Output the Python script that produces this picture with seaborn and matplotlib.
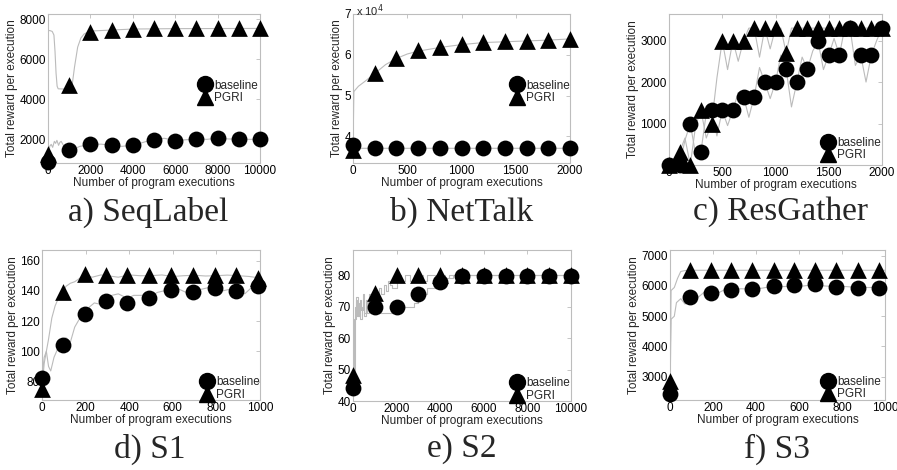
import numpy as np
import pandas as pd
import matplotlib
matplotlib.use('Agg')
import matplotlib.pyplot as plt
import seaborn as sns
from matplotlib.lines import Line2D
from matplotlib.ticker import FuncFormatter

sns.set_style('white')
plt.rcParams['font.family'] = ['Liberation Sans', 'DejaVu Sans']

# ---- a) SeqLabel ----
a_x = [0, 1000, 2000, 3000, 4000, 5000, 6000, 7000, 8000, 9000, 10000]
a_base = [850, 1470, 1750, 1700, 1720, 1970, 1930, 2000, 2050, 2000, 2000]
a_pgri = [1255, 4700, 7350, 7430, 7500, 7530, 7530, 7530, 7530, 7530, 7530]
a_line_x = [0, 20, 100, 200, 280, 330, 380, 430, 480, 700, 1000, 1120, 1250, 1400, 1550, 1700, 1850, 2000, 3000, 4000, 6000, 10000]
a_line_pgri = [1255, 7430, 7420, 7380, 7200, 6400, 5300, 4650, 4520, 4510, 4520, 4550, 5600, 6600, 7050, 7250, 7330, 7400, 7450, 7500, 7520, 7530]
a_line2_x = [0, 80, 150, 220, 300, 360, 420, 500, 560, 620, 700, 800, 1000, 1200, 1500, 2000, 2500, 3000, 3500, 4000, 4500, 5000, 5500, 6000, 6500, 7000, 7500, 8000, 8500, 9000, 10000]
a_line_base = [850, 1650, 1750, 1600, 1900, 1800, 1950, 1700, 1850, 1900, 1750, 1600, 1480, 1500, 1650, 1730, 1760, 1700, 1650, 1720, 1850, 2020, 2050, 1940, 1980, 2010, 2000, 2060, 2020, 2000, 2000]

# ---- b) NetTalk ----
b_x = [0, 200, 400, 600, 800, 1000, 1200, 1400, 1600, 1800, 2000]
b_base = [37800, 37100, 37100, 37100, 37100, 37100, 37100, 37100, 37100, 37100, 37100]
b_pgri = [36700, 55600, 59200, 61100, 61900, 62600, 63100, 63400, 63500, 63700, 63900]
b_line_x = [0, 8, 50, 100, 200, 300, 400, 500, 600, 800, 1000, 1200, 1400, 1600, 1800, 2000]
b_line_pgri = [36700, 51000, 52300, 53300, 55400, 57600, 59100, 60200, 60900, 61800, 62500, 63000, 63200, 63400, 63600, 63900]
b_line_base = [37800, 37200, 37100, 37100, 37100, 37100, 37100, 37100, 37100, 37100, 37100, 37100, 37100, 37100, 37100, 37100]

# ---- c) ResGather ----
c_x = [0, 100, 200, 300, 400, 500, 600, 700, 800, 900, 1000, 1100, 1200, 1300, 1400, 1500, 1600, 1700, 1800, 1900, 2000]
c_base = [0, 0, 1000, 320, 1320, 1320, 1320, 1650, 1650, 1990, 1990, 2310, 1990, 2310, 2980, 2650, 2650, 3300, 2650, 2650, 3300]
c_pgri = [0, 320, 0, 1320, 1000, 3000, 3000, 3000, 3300, 3300, 3300, 2700, 3300, 3300, 3300, 3300, 3300, 3300, 3300, 3300, 3300]
c_line_x = [0, 50, 100, 150, 200, 250, 300, 350, 400, 450, 500, 550, 600, 650, 700, 750, 800, 850, 900, 950, 1000,
            1050, 1100, 1150, 1200, 1250, 1300, 1350, 1400, 1450, 1500, 1550, 1600, 1650, 1700, 1750, 1800, 1850, 1900, 1950, 2000]
c_line_pgri = [0, 150, 320, 650, 0, 950, 1320, 650, 1000, 2100, 3000, 2300, 3000, 2500, 3000, 3300, 3300, 2600, 3300, 2800, 3300,
               3300, 2700, 3300, 3300, 3300, 3300, 3300, 3300, 3300, 3300, 3300, 3300, 3300, 3300, 3300, 3300, 3300, 3300, 3300, 3300]
c_line_base = [0, 0, 0, 600, 1000, 250, 320, 1250, 1320, 700, 1320, 950, 1320, 1750, 1650, 1150, 1650, 2350, 1990, 1600, 1990,
               2650, 2310, 1400, 1990, 2600, 2310, 2750, 2980, 2300, 2650, 3050, 2650, 3300, 3300, 2400, 2650, 2000, 2650, 3000, 3300]

# ---- d) S1 ----
d_x = [0, 95, 195, 292, 392, 493, 593, 692, 792, 892, 990]
d_base = [82.2, 104, 124.4, 133.3, 132.2, 135.5, 140.4, 138.9, 141.6, 140, 143.3]
d_pgri = [75.1, 139.3, 150.9, 150.4, 150.2, 150.4, 150.4, 150.4, 150.4, 150.6, 148.7]
d_line_x = [0, 10, 20, 30, 45, 60, 75, 95, 110, 130, 150, 170, 195, 230, 270, 300, 350, 400, 450, 500, 550, 600, 650, 700, 750, 800, 850, 900, 950, 990]
d_line_pgri = [75, 92, 100, 108, 122, 130, 135, 139, 143, 145, 146, 148, 150.5, 149, 150.5, 150, 149, 150.5, 150, 150, 150.5, 149.5, 150, 150.3, 149.8, 150, 150.4, 150, 149.5, 148.7]
d_line2_x = [0, 10, 20, 30, 40, 55, 70, 95, 110, 130, 150, 170, 195, 215, 240, 270, 292, 320, 350, 392, 420, 460, 493, 530, 560, 593, 630, 660, 692, 730, 760, 792, 830, 860, 892, 930, 960, 990]
d_line_base = [82, 96, 100, 90, 87, 96, 101, 104, 109, 106, 116, 121, 124, 129, 132, 131, 134, 137, 138, 135, 137, 137, 136, 139, 140, 140, 141, 139, 139, 141, 142, 141, 140, 141, 140, 138, 142, 143]

# ---- e) S2 ----
e_x = [0, 1000, 2000, 3000, 4000, 5000, 6000, 7000, 8000, 9000, 10000]
e_base = [44.2, 70, 70, 73.9, 77.9, 79.8, 79.8, 79.8, 79.8, 79.8, 79.8]
e_pgri = [48.2, 74.2, 80.2, 80.1, 80, 80, 80, 80, 80, 80, 80]
e_line_x = [0, 80, 150, 220, 300, 380, 450, 520, 600, 680, 750, 820, 900, 1000, 1100, 1200, 1300, 1400, 1500, 1600, 1700, 1800, 2000,
            2200, 2400, 2600, 2800, 3000, 3200, 3400, 3600, 3800, 4000, 4200, 4400, 4600, 10000]
e_line_pgri = [48, 70, 73, 67, 72, 69, 74, 68, 72, 70, 74, 71, 74, 75, 72, 76, 74, 77, 75, 78, 77, 76, 80,
               78, 80, 78, 80, 80, 78, 80, 80, 79, 80, 79, 80, 80, 80]
e_line2_x = [0, 60, 130, 200, 270, 340, 420, 500, 580, 650, 720, 800, 880, 1000, 1200, 2000, 2100, 2800, 3000, 3400, 3800, 4000, 4300, 4600, 10000]
e_line_base = [44, 66, 72, 67, 71, 66, 70, 67, 72, 68, 71, 69, 70, 70, 68, 68, 70, 71, 74, 76, 77, 78, 79, 80, 80]

# ---- f) S3 ----
f_x = [0, 95, 190, 286, 382, 482, 578, 675, 773, 873, 974]
f_base = [2420, 5640, 5760, 5860, 5890, 6000, 6020, 6050, 5980, 5950, 5950]
f_pgri = [2870, 6520, 6520, 6520, 6520, 6520, 6520, 6520, 6520, 6520, 6520]
f_line_x = [0, 5, 20, 35, 50, 70, 95, 1000]
f_line_pgri = [2870, 5850, 5950, 6250, 6480, 6510, 6520, 6520]
f_line2_x = [0, 5, 20, 30, 50, 70, 95, 130, 160, 190, 230, 260, 286, 330, 382, 430, 482, 530, 578, 620, 675, 720, 773, 820, 873, 920, 974, 1000]
f_line_base = [2420, 4900, 5000, 5450, 5580, 5400, 5640, 5620, 5800, 5760, 5790, 5900, 5860, 5910, 5890, 5930, 6000, 5980, 6010, 6000, 6050, 6000, 5980, 5980, 5950, 5950, 5950, 5950]

captions = ['a) SeqLabel', 'b) NetTalk', 'c) ResGather', 'd) S1', 'e) S2', 'f) S3']

panels = [
    dict(x=a_x, base=a_base, pgri=a_pgri, lx=a_line_x, lp=a_line_pgri, lx2=a_line2_x, lb=a_line_base,
         xlim=(0, 10000), ylim=(820, 8250), xticks=[0, 2000, 4000, 6000, 8000, 10000],
         yticks=[2000, 4000, 6000, 8000], pos=[48, 14, 212, 149], leg=(0.701, 0.477)),
    dict(x=b_x, base=b_base, pgri=b_pgri, lx=b_line_x, lp=b_line_pgri, lx2=b_line_x, lb=b_line_base,
         xlim=(0, 2000), ylim=(33500, 70000), xticks=[0, 500, 1000, 1500, 2000],
         yticks=[40000, 50000, 60000, 70000], pos=[353, 14, 217, 149], leg=(0.7175, 0.477)),
    dict(x=c_x, base=c_base, pgri=c_pgri, lx=c_line_x, lp=c_line_pgri, lx2=c_line_x, lb=c_line_base,
         xlim=(0, 2000), ylim=(0, 3640), xticks=[0, 500, 1000, 1500, 2000],
         yticks=[1000, 2000, 3000], pos=[669, 14, 213, 151], leg=(0.7075, 0.106)),
    dict(x=d_x, base=d_base, pgri=d_pgri, lx=d_line_x, lp=d_line_pgri, lx2=d_line2_x, lb=d_line_base,
         xlim=(0, 1000), ylim=(67.8, 167), xticks=[0, 200, 400, 600, 800, 1000],
         yticks=[80, 100, 120, 140, 160], pos=[42, 250, 218, 150], leg=(0.719, 0.077)),
    dict(x=e_x, base=e_base, pgri=e_pgri, lx=e_line_x, lp=e_line_pgri, lx2=e_line2_x, lb=e_line_base,
         xlim=(0, 10000), ylim=(40, 88), xticks=[0, 2000, 4000, 6000, 8000, 10000],
         yticks=[40, 50, 60, 70, 80], pos=[353, 250, 218, 151], leg=(0.714, 0.077), steps=True),
    dict(x=f_x, base=f_base, pgri=f_pgri, lx=f_line_x, lp=f_line_pgri, lx2=f_line2_x, lb=f_line_base,
         xlim=(0, 1000), ylim=(2230, 7190), xticks=[0, 200, 400, 600, 800, 1000],
         yticks=[3000, 4000, 5000, 6000, 7000], pos=[670, 250, 215, 150], leg=(0.696, 0.08)),
]

W, H = 897, 470
fig = plt.figure(figsize=(W / 100, H / 100), dpi=100)
spine_c = '#bdbdbd'
line_c = '#bbbbbb'

for i, p in enumerate(panels):
    l, t, w, h = p['pos']
    ax = fig.add_axes([l / W, 1 - (t + h) / H, w / W, h / H])
    ds = 'steps-post' if p.get('steps') else 'default'
    sns.lineplot(x=p['lx'], y=p['lp'], ax=ax, color=line_c, lw=0.8, sort=False, estimator=None, drawstyle=ds)
    sns.lineplot(x=p['lx2'], y=p['lb'], ax=ax, color=line_c, lw=0.8, sort=False, estimator=None, drawstyle=ds)
    sns.scatterplot(x=p['x'], y=p['pgri'], ax=ax, marker='^', s=145, color='black', edgecolor='black', linewidth=0, zorder=3, clip_on=False)
    sns.scatterplot(x=p['x'], y=p['base'], ax=ax, marker='o', s=130, color='black', edgecolor='black', linewidth=0, zorder=3, clip_on=False)
    ax.set_xlim(p['xlim'])
    ax.set_ylim(p['ylim'])
    ax.set_xticks(p['xticks'])
    ax.set_yticks(p['yticks'])
    if i == 1:
        ax.yaxis.set_major_formatter(FuncFormatter(lambda v, pos: '%d' % round(v / 10000)))
        ax.text(0.015, 1.025, r'x 10$^4$', transform=ax.transAxes, fontsize=8, va='center', ha='left')
    for s in ax.spines.values():
        s.set_visible(True)
        s.set_color(spine_c)
        s.set_linewidth(0.8)
    ax.tick_params(direction='in', length=3, width=0.6, color=spine_c, labelsize=8.5, pad=1.5,
                   top=True, right=True, labelcolor='black')
    ax.set_xlabel('Number of program executions', fontsize=8.5, labelpad=0)
    ax.set_ylabel('Total reward per execution', fontsize=8.5, labelpad=1)
    handles = [Line2D([], [], marker='o', ls='none', color='black', markersize=11.5),
               Line2D([], [], marker='^', ls='none', color='black', markersize=12)]
    ax.legend(handles, ['baseline', 'PGRI'], loc='center left', bbox_to_anchor=p['leg'], frameon=False,
              fontsize=8.5, handlelength=1.4, handletextpad=0.1, labelspacing=0.05, borderpad=0,
              borderaxespad=0)

cap_pos = [(148, 212), (462, 212), (780, 212), (150, 449), (462, 449), (777, 449)]
for txt, (cx, cy) in zip(captions, cap_pos):
    fig.text(cx / W, 1 - cy / H, txt, ha='center', va='center', fontsize=24,
             family=['Liberation Serif', 'DejaVu Serif'])

fig.savefig('out.png', dpi=100)
